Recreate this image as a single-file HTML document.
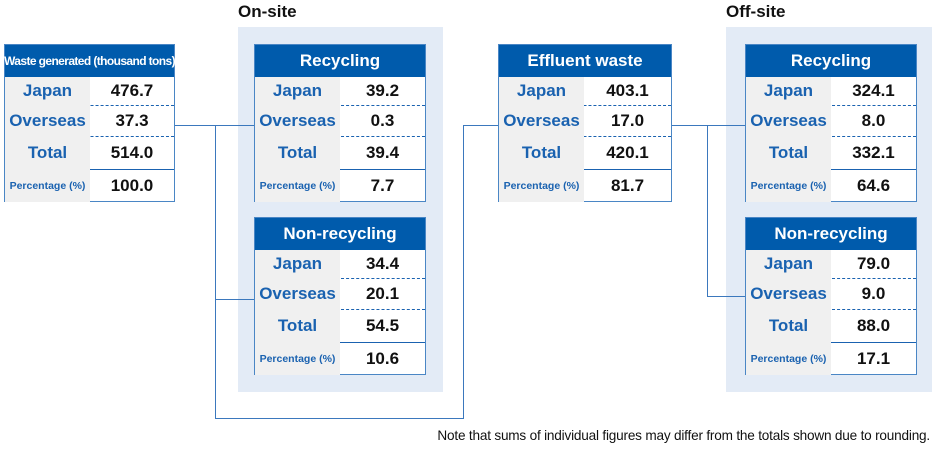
<!DOCTYPE html>
<html><head><meta charset="utf-8"><style>
body{margin:0;width:934px;height:450px;background:#fff;position:relative;overflow:hidden;font-family:"Liberation Sans","DejaVu Sans",sans-serif}
.abs{position:absolute;box-sizing:border-box}
.bg{background:#e3ebf6}
.sec{font-weight:bold;font-size:17px;color:#111}
.tbl{border:1px solid #4a86c5;background:#fff}
.hd{position:absolute;left:0;right:0;top:0;height:32px;background:#005bac;color:#fff;font-weight:bold;font-size:17px;display:flex;align-items:center;justify-content:center}
.row{position:absolute;left:0;right:0;display:flex}
.lab{width:85px;background:#f0f0f0;color:#1a62b0;font-weight:bold;font-size:17px;display:flex;align-items:center;justify-content:center}
.val{flex:1;color:#111;font-weight:bold;font-size:17px;display:flex;align-items:center;justify-content:center}
.ln{position:absolute;background:#3b78bd}
</style></head><body>
<div class="abs bg" style="left:238px;top:27px;width:205px;height:365px"></div>
<div class="abs bg" style="left:726px;top:27px;width:206px;height:365px"></div>
<div class="abs sec" style="left:238px;top:2px">On-site</div>
<div class="abs sec" style="left:726px;top:2px">Off-site</div>

<div class="ln" style="left:175px;top:125px;width:79px;height:1px"></div>
<div class="ln" style="left:215px;top:125px;width:1px;height:294px"></div>
<div class="ln" style="left:215px;top:299px;width:39px;height:1px"></div>
<div class="ln" style="left:215px;top:418px;width:249px;height:1px"></div>
<div class="ln" style="left:463px;top:125px;width:1px;height:294px"></div>
<div class="ln" style="left:463px;top:125px;width:35px;height:1px"></div>
<div class="ln" style="left:672px;top:125px;width:73px;height:1px"></div>
<div class="ln" style="left:707px;top:125px;width:1px;height:172px"></div>
<div class="ln" style="left:707px;top:296px;width:38px;height:1px"></div>

<div class="abs" style="right:4px;top:428px;font-size:13.6px;letter-spacing:-0.2px;color:#111;white-space:nowrap">Note that sums of individual figures may differ from the totals shown due to rounding.</div>

<script>
const tables=[
 {name:'waste-generated-table',x:4,y:44,w:171,title:'Waste generated (thousand tons)',small:true,vals:['476.7','37.3','514.0','100.0']},
 {name:'on-site-recycling-table',x:254,y:44,w:172,title:'Recycling',vals:['39.2','0.3','39.4','7.7']},
 {name:'on-site-non-recycling-table',x:254,y:217,w:172,title:'Non-recycling',vals:['34.4','20.1','54.5','10.6']},
 {name:'effluent-waste-table',x:498,y:44,w:174,title:'Effluent waste',vals:['403.1','17.0','420.1','81.7']},
 {name:'off-site-recycling-table',x:745,y:44,w:172,title:'Recycling',vals:['324.1','8.0','332.1','64.6']},
 {name:'off-site-non-recycling-table',x:745,y:217,w:172,title:'Non-recycling',vals:['79.0','9.0','88.0','17.1']}
];
const labels=['Japan','Overseas','Total','Percentage (%)'];
const rowsY=[32,60,91,124];const rowsH=[28,31,33,33];
tables.forEach(t=>{
 const d=document.createElement('div');d.className='abs tbl';
 
 
 d.style.cssText=`left:${t.x}px;top:${t.y}px;width:${t.w}px;height:158px`;
 const h=document.createElement('div');h.className='hd';h.textContent=t.title;
 
 
 if(t.small){h.style.fontSize='12px';h.style.letterSpacing='-0.6px';h.style.whiteSpace='nowrap';}
 d.appendChild(h);
 labels.forEach((l,i)=>{
  const r=document.createElement('div');r.className='row';
  
  
  r.style.top=rowsY[i]+'px';r.style.height=rowsH[i]+'px';
  if(i<2)r.style.borderBottom='1px dashed #1a62b0';
  if(i==2)r.style.borderBottom='1.5px solid #1a62b0';
  const a=document.createElement('div');a.className='lab';a.textContent=l;
  
  
  if(i==3){a.style.fontSize='10.5px';a.style.whiteSpace='nowrap';}
  const v=document.createElement('div');v.className='val';v.textContent=t.vals[i];
  
  
  r.appendChild(a);r.appendChild(v);d.appendChild(r);
 });
 document.body.appendChild(d);
});
</script>
</body></html>
